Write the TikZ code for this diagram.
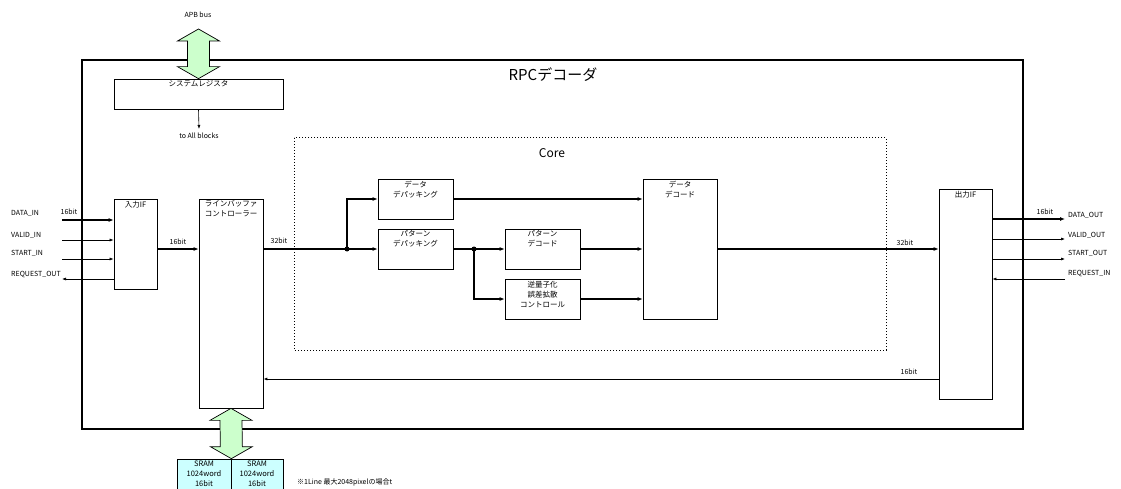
\documentclass[tikz,border=0pt]{standalone}
\usepackage{fontspec}
\setmainfont{Noto Sans CJK JP}
\usepackage{xcolor}
\usetikzlibrary{arrows.meta,calc}

\definecolor{apbgreen}{HTML}{CCFFCC}
\definecolor{sramcyan}{HTML}{CCFFFF}

\tikzset{
  blk/.style={draw, line width=0.7pt, inner sep=0pt},
  inlbl/.style={anchor=north, inner sep=0pt, yshift=-2pt, align=center, font=\fontsize{7.5}{10}\selectfont},
  txt/.style={inner sep=0pt, font=\fontsize{7}{9}\selectfont},
  bus/.style={line width=1.3pt, -{Latex[length=5pt,width=4pt]}},
  sig/.style={line width=0.6pt, -{Latex[length=4pt,width=3pt]}},
  dot/.style={circle, fill, inner sep=0pt, minimum size=5pt},
  wide/.style={draw, line width=0.7pt, fill=apbgreen},
}

% wide two-way arrow between two points on one vertical
\newcommand{\widearrow}[2]{%
  \draw[wide] (#1) -- ++(21,12) -- ++(-10,0) -- ($(#2)+(11,-12)$) -- ++(10,0)
    -- (#2) -- ++(-21,-12) -- ++(10,0) -- ($(#1)+(-11,12)$) -- ++(-10,0) -- cycle;}

\begin{document}
\begin{tikzpicture}[x=1pt,y=-1pt]
  \useasboundingbox (0,0) rectangle (1121,489);

  % frames
  \draw[line width=2.5pt] (82,60) rectangle (1023,429);
  \draw[dotted, line width=1pt] (294,138) rectangle (886,350);
  \node[font=\fontsize{15}{18}\selectfont] (title) at (553,75) {RPCデコーダ};
  \node[font=\fontsize{12}{14}\selectfont] (corel) at (552,153) {Core};

  % blocks
  \node[blk, minimum width=169pt, minimum height=30pt, label={[inlbl]north:システムレジスタ}] (sysreg) at (198.5,94) {};
  \node[blk, minimum width=43pt, minimum height=90pt, label={[inlbl]north:入力IF}] (inif) at (135.5,244) {};
  \node[blk, minimum width=64pt, minimum height=209pt, label={[inlbl]north:{ラインバッファ\\コントローラー}}] (lbc) at (231,303.5) {};
  \node[blk, minimum width=75pt, minimum height=40pt, label={[inlbl]north:{データ\\デパッキング}}] (ddp) at (415.5,199) {};
  \node[blk, minimum width=75pt, minimum height=40pt, label={[inlbl]north:{パターン\\デパッキング}}] (pdp) at (415.5,249) {};
  \node[blk, minimum width=75pt, minimum height=40pt, label={[inlbl]north:{パターン\\デコード}}] (pdc) at (542.5,249) {};
  \node[blk, minimum width=75pt, minimum height=40pt, label={[inlbl]north:{逆量子化\\誤差拡散\\コントロール}}] (iqc) at (542.5,299) {};
  \node[blk, minimum width=74pt, minimum height=140pt, label={[inlbl]north:{データ\\デコード}}] (ddc) at (680,249) {};
  \node[blk, minimum width=53pt, minimum height=210pt, label={[inlbl]north:出力IF}] (opif) at (965.5,294) {};
  \node[blk, fill=sramcyan, minimum width=54pt, minimum height=36pt, label={[inlbl]north:{SRAM\\1024word\\16bit}}] (sram1) at (204,477) {};
  \node[blk, fill=sramcyan, minimum width=52pt, minimum height=36pt, label={[inlbl]north:{SRAM\\1024word\\16bit}}] (sram2) at (257,477) {};

  % bus arrows
  \coordinate (apb) at (198.5,29);
  \widearrow{apb}{sysreg.north}
  \widearrow{lbc.south}{sram1.north east}
  \node[txt] (apbl) at (198,15) {APB bus};
  \node[txt] (toall) at (199,136) {to All blocks};
  \draw[sig] (sysreg.south) -- ([yshift=4pt]toall.north);

  % inputs
  \coordinate (din) at (62,220);
  \coordinate (vin) at (62,240);
  \coordinate (sin) at (62,259);
  \coordinate (rout) at (62,279);
  \draw[bus] (din) -- (din -| inif.west);
  \draw[sig] (vin) -- (vin -| inif.west);
  \draw[sig] (sin) -- (sin -| inif.west);
  \draw[sig] (rout -| inif.west) -- (rout);
  \node[txt, anchor=west] (dinl) at (11,213) {DATA\_IN};
  \node[txt, anchor=west] (vinl) at (11,235) {VALID\_IN};
  \node[txt, anchor=west] (sinl) at (11,253) {START\_IN};
  \node[txt, anchor=west] (routl) at (11,275) {REQUEST\_OUT};
  \node[txt] (b1) at (69,212) {16bit};

  % data path
  \node[dot] (j1) at (347,249) {};
  \node[dot] (j2) at (474,249) {};
  \draw[bus] (inif.east |- j1) -- (lbc.west |- j1);
  \node[txt] (b2) at (178,242) {16bit};
  \draw[bus] (lbc.east |- j1) -- (j1.center) -- (pdp.west);
  \node[txt] (b3) at (279,241) {32bit};
  \draw[bus] (j1.center) |- (ddp.west);
  \draw[bus] (pdp.east) -- (j2.center) -- (pdc.west);
  \draw[bus] (j2.center) |- (iqc.west);
  \draw[bus] (ddp.east) -- (ddp.east -| ddc.west);
  \draw[bus] (pdc.east) -- (pdc.east -| ddc.west);
  \draw[bus] (iqc.east) -- (iqc.east -| ddc.west);
  \draw[bus] (ddc.east) -- (ddc.east -| opif.west);
  \node[txt] (b4) at (905,243) {32bit};

  % feedback
  \coordinate (fb) at (600,379);
  \draw[sig, line width=0.8pt] (opif.west |- fb) -- (lbc.east |- fb);
  \node[txt] (b5) at (909,372) {16bit};

  % outputs
  \coordinate (dout) at (1065,219);
  \coordinate (vout) at (1065,239);
  \coordinate (sout) at (1065,259);
  \coordinate (rin) at (1065,279);
  \draw[bus] (dout -| opif.east) -- (dout);
  \draw[sig] (vout -| opif.east) -- (vout);
  \draw[sig] (sout -| opif.east) -- (sout);
  \draw[sig] (rin) -- (rin -| opif.east);
  \node[txt, anchor=west] (doutl) at (1068,215) {DATA\_OUT};
  \node[txt, anchor=west] (voutl) at (1068,235) {VALID\_OUT};
  \node[txt, anchor=west] (soutl) at (1068,253) {START\_OUT};
  \node[txt, anchor=west] (rinl) at (1068,274) {REQUEST\_IN};
  \node[txt] (b6) at (1045,212) {16bit};

  % note
  \node[txt, anchor=west] (note) at (297,482) {※1Line 最大2048pixelの場合t};
\end{tikzpicture}
\end{document}
